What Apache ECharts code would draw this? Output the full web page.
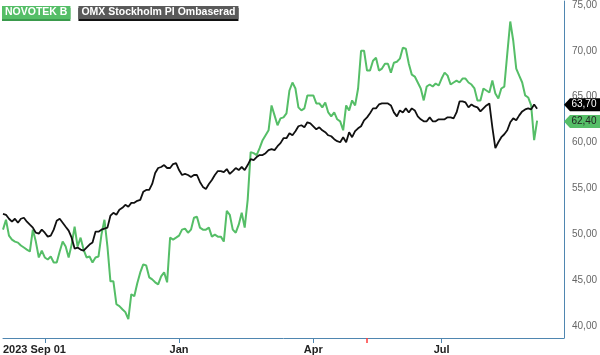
<!DOCTYPE html>
<html>
<head>
<meta charset="utf-8">
<script src="https://cdn.jsdelivr.net/npm/echarts@6/dist/echarts.min.js"></script>
<style>
  html, body { margin: 0; padding: 0; background: #fff; }
  #chart { width: 600px; height: 355px; }
</style>
</head>
<body>
<div id="chart"></div>
<script>
// one slot per ~trading day pair, extra empty slots at the right
var days = [];
for (var i = 0; i < 189; i++) days.push(String(i));

var omx = [
  52.24, 52.13, 51.70, 51.38, 51.70, 51.27, 51.70, 51.81, 51.38, 51.05,
  50.73, 50.18, 50.08, 50.51, 50.18, 49.75, 49.86, 50.51, 51.48, 51.70,
  51.27, 50.83, 50.40, 49.64, 48.45, 48.56, 48.34, 48.23, 48.56, 48.88,
  49.10, 50.29, 50.29, 50.51, 50.62, 50.73, 52.03, 52.35, 52.13, 52.68,
  52.89, 53.22, 53.00, 53.43, 53.43, 53.65, 53.76, 54.63, 54.84, 54.84,
  55.49, 56.69, 57.23, 57.34, 57.55, 57.23, 57.23, 57.66, 57.77, 57.01,
  56.47, 56.58, 56.47, 56.25, 56.47, 56.47, 55.71, 55.17, 54.95, 55.49,
  55.93, 56.47, 56.90, 56.90, 56.79, 57.12, 56.58, 56.90, 57.23, 57.01,
  57.34, 57.01, 57.55, 58.20, 58.09, 58.42, 58.64, 58.64, 58.85, 59.18,
  59.29, 59.18, 59.61, 59.94, 60.48, 60.48, 61.02, 60.80, 61.24, 61.78,
  61.89, 61.67, 62.21, 62.10, 61.78, 61.45, 61.67, 61.34, 61.13, 60.80,
  60.69, 60.37, 60.15, 60.04, 60.59, 60.04, 61.13, 60.59, 61.24, 61.56,
  61.78, 62.43, 62.75, 63.19, 63.73, 63.73, 64.16, 64.27, 64.27, 64.27,
  64.05, 63.29, 62.86, 63.51, 63.29, 63.73, 63.29, 63.73, 63.51, 62.86,
  62.54, 62.32, 62.32, 62.75, 62.32, 62.32, 62.54, 62.54, 62.54, 62.75,
  62.75, 62.64, 63.29, 64.49, 64.49, 64.38, 63.84, 64.16, 63.94, 63.84,
  63.40, 63.73, 64.05, 64.27, 61.67, 59.39, 60.04, 60.59, 60.91, 61.34,
  62.21, 62.64, 62.43, 62.97, 63.40, 63.62, 63.73, 63.62, 64.16, 63.70
];

var novotek = [
  50.51, 51.59, 49.86, 49.43, 49.21, 49.10, 48.78, 48.56, 48.34, 48.13,
  50.51, 49.21, 47.48, 48.23, 47.48, 47.26, 47.58, 46.93, 46.93, 48.13,
  49.21, 48.67, 47.48, 48.88, 50.83, 48.67, 49.64, 48.34, 47.48, 47.58,
  46.93, 47.48, 47.58, 49.97, 51.59, 48.67, 44.88, 44.88, 42.38, 42.17,
  41.84, 41.52, 40.76, 43.47, 43.25, 44.66, 45.85, 46.72, 46.61, 45.31,
  45.09, 44.77, 44.55, 45.42, 45.85, 44.77, 49.64, 49.43, 49.64, 49.86,
  50.51, 50.62, 50.18, 50.51, 51.81, 51.92, 50.73, 50.51, 50.51, 50.73,
  49.75, 49.97, 49.75, 49.75, 49.21, 52.57, 52.13, 50.51, 50.18, 51.05,
  52.35, 50.73, 53.76, 58.96, 58.85, 58.64, 59.39, 60.26, 60.80, 61.34,
  64.05, 62.97, 61.89, 62.64, 62.75, 63.19, 65.68, 66.55, 65.90, 63.84,
  63.51, 63.73, 65.14, 65.14, 65.14, 64.27, 64.27, 63.84, 64.38, 63.29,
  62.86, 63.29, 62.54, 62.32, 61.34, 64.05, 63.51, 64.60, 64.05, 65.90,
  70.01, 70.01, 67.85, 67.85, 68.93, 69.25, 67.85, 68.07, 68.60, 68.60,
  67.63, 68.71, 68.82, 69.15, 70.34, 70.23, 68.60, 67.41, 67.20, 66.55,
  65.90, 64.60, 66.11, 66.33, 66.11, 66.44, 66.22, 66.98, 67.63, 67.30,
  66.33, 66.55, 66.76, 66.55, 66.98, 66.98, 66.55, 66.33, 65.90, 64.60,
  64.60, 65.90, 65.68, 65.46, 66.76, 65.35, 64.81, 65.90, 66.11, 69.69,
  73.20, 71.10, 68.07, 67.30, 66.55, 65.14, 64.92, 64.05, 60.26, 62.40
];

var yTicks = [40, 45, 50, 55, 60, 65, 70, 75];
var xTickIdx = [14, 59, 104, 147];
var xLabels = { 59: 'Jan', 104: 'Apr', 147: 'Jul' };
var startLabel = '2023 Sep 01';
var markIdx = 122;

var GREEN = '#55be67';
var AXIS = '#4f86b0';

function fmt(v) { return v.toFixed(2).replace('.', ','); }

var chart = echarts.init(document.getElementById('chart'));
chart.setOption({
  animation: false,
  backgroundColor: '#fff',
  textStyle: { fontFamily: 'Liberation Sans, Arial, sans-serif' },
  grid: { left: 0, right: 36, top: 0, bottom: 16 },
  legend: {
    left: -8, top: 1, itemGap: 3, itemWidth: 0, itemHeight: 0, icon: 'none',
    selectedMode: false,
    textStyle: { color: '#fff', fontWeight: 'bold', fontSize: 10.5, padding: [1, 3, 1, 3] },
    data: [
      { name: 'NOVOTEK B', textStyle: { backgroundColor: GREEN, shadowColor: '#3a9a4c', shadowOffsetY: 2, shadowBlur: 0 } },
      { name: 'OMX Stockholm PI Ombaserad', textStyle: { backgroundColor: '#5a5a5a', shadowColor: '#111', shadowOffsetY: 2, shadowBlur: 0 } }
    ]
  },
  xAxis: [{
    type: 'category', data: days, boundaryGap: false,
    axisLine: { lineStyle: { color: AXIS, width: 1 } },
    axisTick: { length: 5, lineStyle: { color: AXIS }, interval: function (i) { return xTickIdx.indexOf(i) >= 0; } },
    axisLabel: {
      interval: function (i) { return xLabels[i] !== undefined; },
      formatter: function (v, i) { return xLabels[i] || ''; },
      color: '#222', fontWeight: 'bold', fontSize: 11, margin: 6
    },
    splitLine: { show: false }
  }, {
    type: 'category', data: days, boundaryGap: false, position: 'bottom',
    axisLine: { show: false }, axisTick: { show: false }, splitLine: { show: false },
    axisLabel: {
      interval: function (i) { return i === 0; },
      formatter: function () { return startLabel; },
      align: 'left', color: '#222', fontWeight: 'bold', fontSize: 11, margin: 6
    }
  }, {
    type: 'category', data: days, boundaryGap: false, position: 'bottom',
    axisLine: { show: true, lineStyle: { color: AXIS, opacity: 0 } },
    axisLabel: { show: false }, splitLine: { show: false },
    axisTick: { show: true, length: 5, lineStyle: { color: '#ff3b3b', width: 1.5 }, interval: function (i) { return i === markIdx; } }
  }],
  yAxis: {
    type: 'value', position: 'right', min: 38.7, max: 75.43,
    axisLine: { show: true, lineStyle: { color: AXIS } },
    axisTick: { show: false },
    splitLine: { show: false },
    axisLabel: { customValues: yTicks, formatter: fmt, color: '#666', fontSize: 10, margin: 8 }
  },
  series: [{
    name: 'NOVOTEK B', type: 'line', data: novotek, showSymbol: false,
    lineStyle: { color: GREEN, width: 2 }, itemStyle: { color: GREEN }, z: 2,
    markPoint: {
      symbol: 'path://M0,6 L6,0 L36,0 L36,12 L6,12 Z', symbolKeepAspect: false,
      symbolSize: [36, 13], symbolOffset: [18, 1],
      itemStyle: { color: GREEN },
      label: { show: true, color: '#222', fontSize: 10, offset: [2, 0], formatter: function (p) { return fmt(p.value); } },
      data: [{ coord: [days[days.length - 1], novotek[novotek.length - 1]], value: novotek[novotek.length - 1] }]
    }
  }, {
    name: 'OMX Stockholm PI Ombaserad', type: 'line', data: omx, showSymbol: false,
    lineStyle: { color: '#111', width: 1.8 }, itemStyle: { color: '#111' }, z: 3,
    markPoint: {
      symbol: 'path://M0,6 L6,0 L36,0 L36,12 L6,12 Z', symbolKeepAspect: false,
      symbolSize: [36, 13], symbolOffset: [18, -4],
      itemStyle: { color: '#000' },
      label: { show: true, color: '#fff', fontSize: 10, offset: [2, 0], formatter: function (p) { return fmt(p.value); } },
      data: [{ coord: [days[days.length - 1], omx[omx.length - 1]], value: omx[omx.length - 1] }]
    }
  }]
});
</script>
</body>
</html>
